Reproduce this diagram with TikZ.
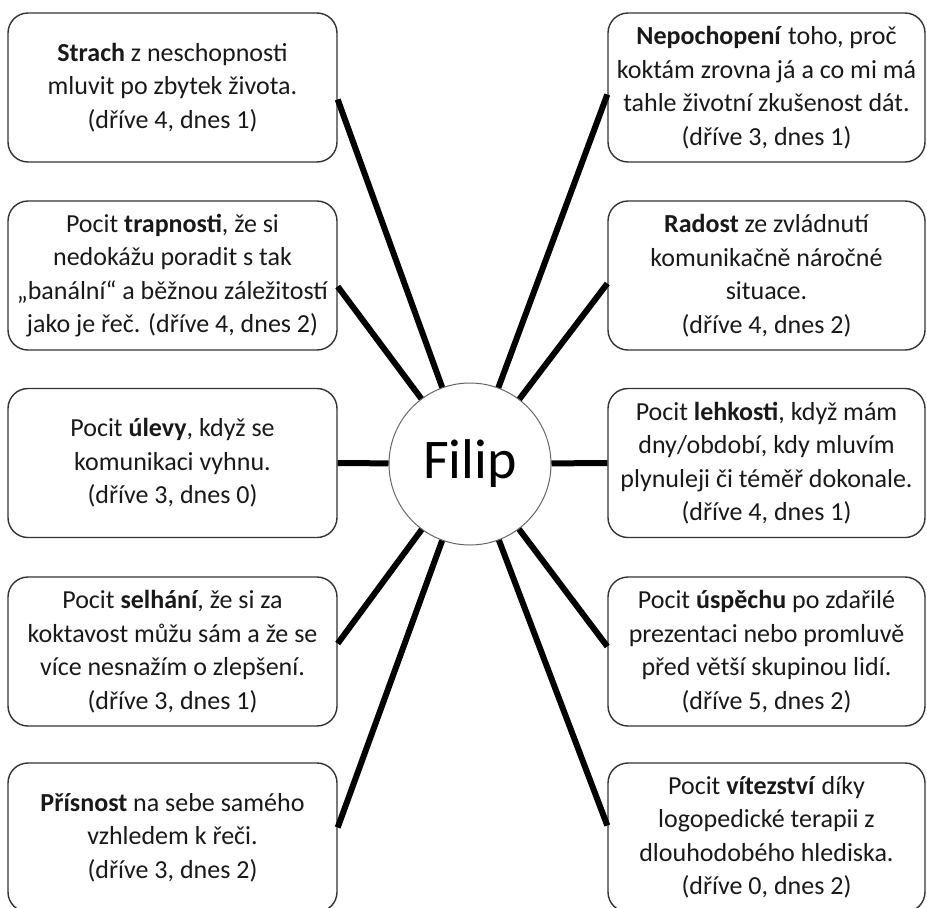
\documentclass[tikz,border=0pt]{standalone}
\usepackage{fontspec}
\setmainfont{Carlito}
\tikzset{
  feel/.style={draw=black!80, line width=1.4pt, rounded corners=20pt, fill=white,
    text=black!90, align=center, inner sep=0pt, minimum height=149pt,
    font=\fontsize{26}{33.5}\selectfont},
  leftfeel/.style={feel, minimum width=329pt},
  rightfeel/.style={feel, minimum width=317pt},
  spoke/.style={line width=6pt}
}
\begin{document}
\begin{tikzpicture}[x=1pt,y=1pt]
      \path[use as bounding box, fill=white] (0,0) rectangle (927,-908);

      \node[circle, draw=black!60, line width=1pt, minimum size=162pt, inner sep=0pt,
        font=\fontsize{56}{60}\selectfont] (A) at (470,-464) {Filip};

      \node[leftfeel] (B) at (172.5,-87.5) {\textbf{Strach} z neschopnosti\\ mluvit po zbytek života.\\ (dříve 4, dnes 1)};
      \node[leftfeel] (C) at (172.5,-275.5) {Pocit \textbf{trapnosti}, že si\\ nedokážu poradit s tak\\ „banální“ a běžnou záležitostí\\ jako je řeč. (dříve 4, dnes 2)};
      \node[leftfeel] (D) at (172.5,-463) {Pocit \textbf{úlevy}, když se\\ komunikaci vyhnu.\\ (dříve 3, dnes 0)};
      \node[leftfeel] (E) at (172.5,-651.5) {Pocit \textbf{selhání}, že si za\\ koktavost můžu sám a že se\\ více nesnažím o zlepšení.\\ (dříve 3, dnes 1)};
      \node[leftfeel] (F) at (172.5,-837.5) {\textbf{Přísnost} na sebe samého\\ vzhledem k řeči.\\ (dříve 3, dnes 2)};

      \node[rightfeel] (G) at (766.5,-87.5) {\textbf{Nepochopení} toho, proč\\ koktám zrovna já a co mi má\\ tahle životní zkušenost dát.\\ (dříve 3, dnes 1)};
      \node[rightfeel] (H) at (766.5,-275.5) {\textbf{Radost} ze zvládnutí\\ komunikačně náročné\\ situace.\\ (dříve 4, dnes 2)};
      \node[rightfeel] (I) at (766.5,-463) {Pocit \textbf{lehkosti}, když mám\\ dny/období, kdy mluvím\\ plynuleji či téměř dokonale.\\ (dříve 4, dnes 1)};
      \node[rightfeel] (J) at (766.5,-651.5) {Pocit \textbf{úspěchu} po zdařilé\\ prezentaci nebo promluvě\\ před větší skupinou lidí.\\ (dříve 5, dnes 2)};
      \node[rightfeel] (K) at (766.5,-837.5) {Pocit \textbf{vítezství} díky\\ logopedické terapii z\\ dlouhodobého hlediska.\\ (dříve 0, dnes 2)};

      \draw[spoke] (A) -- ([yshift=-12pt]B.east);
      \draw[spoke] (A) -- ([yshift=-11pt]C.east);
      \draw[spoke] (A) -- (D.east);
      \draw[spoke] (A) -- ([yshift=8pt]E.east);
      \draw[spoke] (A) -- ([yshift=10pt]F.east);
      \draw[spoke] (A) -- ([yshift=-7pt]G.west);
      \draw[spoke] (A) -- ([yshift=-8pt]H.west);
      \draw[spoke] (A) -- (I.west);
      \draw[spoke] (A) -- ([yshift=5pt]J.west);
      \draw[spoke] (A) -- ([yshift=12pt]K.west);
    \end{tikzpicture}
\end{document}
